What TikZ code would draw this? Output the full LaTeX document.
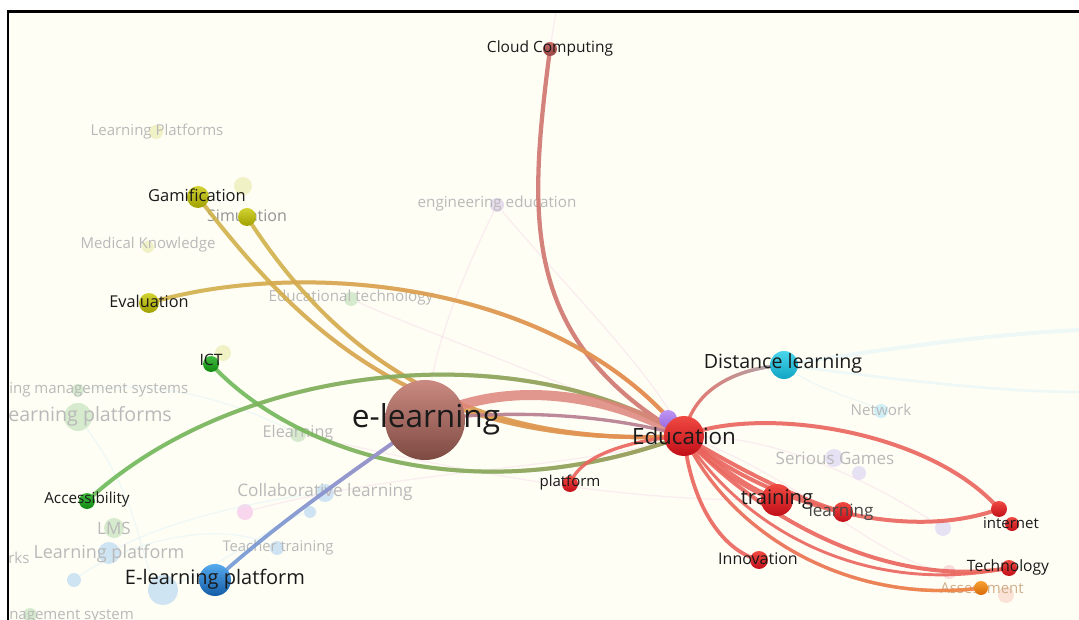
\documentclass[tikz,border=0pt]{standalone}
\usepackage{fontspec}
\setmainfont{Open Sans}
\usetikzlibrary{fadings}
\newcommand\pxf[1]{\fontsize{\fpeval{#1*0.75}pt}{\fpeval{#1*0.9}pt}\selectfont}
\pgfdeclarelayer{bg}\pgfdeclarelayer{faded}\pgfdeclarelayer{edges}
\pgfsetlayers{bg,faded,edges,main}
\definecolor{cream}{HTML}{FFFEF5}
\definecolor{labdark}{HTML}{1A1A1A}
\definecolor{fadegray}{HTML}{B9B9B9}
\definecolor{elT}{HTML}{CB8A81}\definecolor{elB}{HTML}{7C4A42}
\definecolor{redT}{HTML}{F04A42}\definecolor{redB}{HTML}{C20E18}
\definecolor{puT}{HTML}{BE96F4}\definecolor{puB}{HTML}{9A6AE0}
\definecolor{ccT}{HTML}{C86A66}\definecolor{ccB}{HTML}{984646}
\definecolor{dlT}{HTML}{4AD6EC}\definecolor{dlB}{HTML}{10A4C4}
\definecolor{orT}{HTML}{F7A032}\definecolor{orB}{HTML}{D86A08}
\definecolor{yeT}{HTML}{D2D232}\definecolor{yeB}{HTML}{A0A000}
\definecolor{grT}{HTML}{40BC40}\definecolor{grB}{HTML}{108810}
\definecolor{blT}{HTML}{56AAEE}\definecolor{blB}{HTML}{135CA6}
\definecolor{ccedge}{HTML}{CF766E}
\definecolor{goldA}{HTML}{D0B54C}\definecolor{orangeB}{HTML}{EA8758}
\definecolor{greenA}{HTML}{6CBC5A}\definecolor{oliveB}{HTML}{A89A62}
\definecolor{blueA}{HTML}{6E9CD8}\definecolor{purpleB}{HTML}{A88EC4}
\definecolor{rededge}{HTML}{E9645C}
\definecolor{band}{HTML}{DE857C}
\definecolor{mauve}{HTML}{B67C8E}
\definecolor{oredge}{HTML}{EE9048}
\definecolor{grayc}{HTML}{9AB4BC}
\definecolor{fyel}{HTML}{F1F1C6}\definecolor{fgrn}{HTML}{D6EACD}
\definecolor{fblu}{HTML}{CFE4F2}\definecolor{fpur}{HTML}{E6DCEC}
\definecolor{fpnk}{HTML}{F8D6EE}\definecolor{fcya}{HTML}{CFEFF7}
\definecolor{fvio}{HTML}{E6E2F4}\definecolor{fred}{HTML}{F8DCDC}
\definecolor{fpch}{HTML}{FBE2D6}
\definecolor{fline}{HTML}{F3D4E6}\definecolor{fcline}{HTML}{D6F0F8}
\begin{document}
\begin{tikzpicture}[x=0.75pt,y=-0.75pt,
  ball/.style n args={3}{circle,inner sep=0pt,minimum size=#1*1.5pt,top color=#2,bottom color=#3,draw=none},
  fball/.style n args={2}{circle,inner sep=0pt,minimum size=#1*1.5pt,fill=#2,draw=none},
  lab/.style={text=labdark,inner sep=0pt},
  flab/.style={text=fadegray,inner sep=0pt},
  edge/.style={line cap=round,opacity=0.9},
  fedge/.style={line width=1pt,opacity=0.4}]
\useasboundingbox (0,0) rectangle (1079,620);
\begin{pgfonlayer}{bg}
\fill[white] (0,0) rectangle (1079,620);
\fill[cream] (8,11) rectangle (1079,620);
\end{pgfonlayer}

% ---------- strong nodes ----------
\node[ball={9}{puT}{puB}] (PU) at (668,419) {};
\node[ball={40}{elT}{elB}] (EL) at (425,420) {};
\node[ball={20}{redT}{redB}] (ED) at (684,436) {};
\node[ball={7}{ccT}{ccB}] (CC) at (550,49) {};
\node[ball={14}{dlT}{dlB}] (DL) at (784,365) {};
\node[ball={16}{redT}{redB}] (TR) at (777,500) {};
\node[ball={10}{redT}{redB}] (LE) at (843,512) {};
\node[ball={8}{redT}{redB}] (IN1) at (999,509) {};
\node[ball={7}{redT}{redB}] (IN2) at (1012,524) {};
\node[ball={8}{redT}{redB}] (TE) at (1009,568) {};
\node[ball={7}{orT}{orB}] (AS) at (981,588) {};
\node[ball={9}{redT}{redB}] (INV) at (759,560) {};
\node[ball={8}{redT}{redB}] (PL) at (570,484) {};
\node[ball={11}{yeT}{yeB}] (GA) at (198,197) {};
\node[ball={9}{yeT}{yeB}] (SI) at (247,217) {};
\node[ball={10}{yeT}{yeB}] (EV) at (149,303) {};
\node[ball={8}{grT}{grB}] (ICT) at (211,364) {};
\node[ball={8}{grT}{grB}] (AC) at (87,501) {};
\node[ball={16}{blT}{blB}] (ELP) at (215,580) {};

% ---------- faded nodes and labels ----------
\begin{pgfonlayer}{faded}
\clip (9,12) rectangle (1079,620);
\node[fball={7}{fyel}] (fLPs) at (156,132) {};
\node[fball={9}{fyel}] (fY1) at (243,186) {};
\node[fball={6}{fyel}] (fMK) at (148,247) {};
\node[fball={7}{fpur}] (fEE) at (497,205) {};
\node[fball={7}{fgrn}] (fET) at (351,299) {};
\node[fball={8}{fyel}] (fY2) at (223,353) {};
\node[fball={6}{fgrn}] (fLMSs) at (78,390) {};
\node[fball={14}{fgrn}] (fLPl) at (78,417) {};
\node[fball={8}{fgrn}] (fEl) at (298,434) {};
\node[fball={9}{fblu}] (fCL) at (325,493) {};
\node[fball={6}{fblu}] (fB1) at (310,512) {};
\node[fball={8}{fpnk}] (fPk) at (245,512) {};
\node[fball={10}{fgrn}] (fLMS) at (114,528) {};
\node[fball={11}{fblu}] (fLP) at (109,553) {};
\node[fball={7}{fblu}] (fTT) at (277,548) {};
\node[fball={7}{fblu}] (fB2) at (74,580) {};
\node[fball={15}{fblu}] (fB3) at (163,590) {};
\node[fball={7}{fgrn}] (fLMS2) at (30,615) {};
\node[fball={7}{fcya}] (fNW) at (881,411) {};
\node[fball={9}{fvio}] (fSG) at (834,458) {};
\node[fball={7}{fvio}] (fV1) at (859,473) {};
\node[fball={8}{fvio}] (fV2) at (943,528) {};
\node[fball={7}{fred}] (fR1) at (949,572) {};
\node[fball={8}{fpch}] (fP1) at (1006,595) {};
\coordinate (topCC) at (556,12);
\coordinate (rDL1) at (1079,330);
\coordinate (rDL2) at (1079,392);
% faint connectors
\draw[fedge,fline] (topCC) -- (CC);
\draw[fedge,fline] (fEE) .. controls (470,260) and (440,330) .. (EL);
\draw[fedge,fline] (fEE) .. controls (560,280) and (640,360) .. (ED);
\draw[fedge,fline] (fET) .. controls (420,330) and (560,380) .. (ED);
\draw[fedge,fline] (fPk) .. controls (400,470) and (560,470) .. (ED);
\draw[fedge,fline] (fEl) .. controls (460,470) and (600,500) .. (TR);
\draw[fedge,fline] (ED) .. controls (800,480) and (880,560) .. (fR1);
\draw[fedge,fline] (ED) .. controls (800,440) and (900,500) .. (fV2);
\draw[fedge,fcline,line width=3pt] (DL) .. controls (880,350) and (980,335) .. (rDL1);
\draw[fedge,fcline,line width=2pt] (DL) .. controls (900,380) and (1000,392) .. (rDL2);
\draw[fedge,fcline] (DL) .. controls (820,390) and (860,400) .. (fNW);
\draw[fedge,fcline] (fLPl) .. controls (140,500) and (140,560) .. (fB3);
\draw[fedge,fcline] (fLP) .. controls (170,520) and (260,500) .. (fCL);
\draw[fedge,fcline] (fB2) .. controls (130,540) and (220,520) .. (fTT);
\draw[fedge,fcline] (fB3) .. controls (230,560) and (280,520) .. (fB1);
\draw[fedge,fcline] (fLMSs) .. controls (160,380) and (230,400) .. (fEl);
% faded labels
\node[flab,font=\pxf{15}] (lLPs) at (157,132) {Learning Platforms};
\node[flab,font=\pxf{15}] (lMK) at (148,245) {Medical Knowledge};
\node[inner sep=0pt,text=gray!85,font=\pxf{16}] (lSI) at (247,216) {Simulation};
\node[flab,font=\pxf{15.2}] (lEE) at (497,204) {engineering education};
\node[flab,font=\pxf{15.2}] (lET) at (351,298) {Educational technology};
\node[flab,font=\pxf{15},anchor=west] (lLMSs) at (9,390) {ing management systems};
\node[flab,font=\pxf{19.6},anchor=west] (lLPl) at (8,416) {earning platforms};
\node[flab,font=\pxf{16.2}] (lEl) at (298,433) {Elearning};
\node[flab,font=\pxf{17.2}] (lCL) at (325,492) {Collaborative learning};
\node[flab,font=\pxf{17}] (lLMS) at (114,528) {LMS};
\node[flab,font=\pxf{18}] (lLP) at (109,554) {Learning platform};
\node[flab,font=\pxf{15},anchor=west] (lrks) at (8,558) {rks};
\node[flab,font=\pxf{14.8}] (lTT) at (278,548) {Teacher training};
\node[flab,font=\pxf{15},anchor=west] (lLMS2) at (9,616) {nagement system};
\node[flab,font=\pxf{15.2}] (lNW) at (881,410) {Network};
\node[flab,font=\pxf{17}] (lSG) at (835,458) {Serious Games};
\node[inner sep=0pt,text=orT!35!fadegray,font=\pxf{15}] (lAS) at (982,588) {Assessment};
\end{pgfonlayer}

% ---------- strong connectors ----------
\begin{pgfonlayer}{edges}
\draw[edge,line width=3.2pt,ccedge] (CC.center) .. controls (528,220) and (520,340) .. (ED.center);
% Gamification / Simulation
\draw[edge,line width=3pt,goldA] (GA.center) .. controls (300,330) and (420,450) .. (ED.center);
\draw[edge,line width=3pt,orangeB,path fading=west] (GA.center) .. controls (300,330) and (420,450) .. (ED.center);
\draw[edge,line width=3pt,goldA] (SI.center) .. controls (320,330) and (440,450) .. (ED.center);
\draw[edge,line width=3pt,orangeB,path fading=west] (SI.center) .. controls (320,330) and (440,450) .. (ED.center);
% Evaluation
\draw[edge,line width=3pt,goldA] (EV.center) .. controls (300,258) and (560,280) .. (ED.center);
\draw[edge,line width=3pt,orangeB,path fading=west] (EV.center) .. controls (300,258) and (560,280) .. (ED.center);
% ICT
\draw[edge,line width=3pt,greenA] (ICT.center) .. controls (290,450) and (470,515) .. (ED.center);
\draw[edge,line width=3pt,oliveB,path fading=west] (ICT.center) .. controls (290,450) and (470,515) .. (ED.center);
% Accessibility
\draw[edge,line width=3pt,greenA] (AC.center) .. controls (240,360) and (520,335) .. (ED.center);
\draw[edge,line width=3pt,oliveB,path fading=west] (AC.center) .. controls (240,360) and (520,335) .. (ED.center);
% E-learning platform
\draw[edge,line width=2.8pt,blueA] (ELP.center) .. controls (280,520) and (370,460) .. (EL.center);
\draw[edge,line width=2.8pt,purpleB,path fading=west] (ELP.center) .. controls (280,520) and (370,460) .. (EL.center);
% e-learning -- Education
\draw[edge,line width=7.5pt,band,opacity=0.85] (EL.center) .. controls (500,380) and (600,390) .. (ED.center);
\draw[edge,line width=2.5pt,mauve] (EL.center) .. controls (500,410) and (600,412) .. (ED.center);
% platform
\draw[edge,line width=2.5pt,rededge] (PL.center) .. controls (580,455) and (630,440) .. (ED.center);
% Distance learning
\draw[edge,line width=2.5pt,rededge] (ED.center) .. controls (690,400) and (720,370) .. (DL.center);
\draw[edge,line width=2.5pt,grayc,path fading=west] (ED.center) .. controls (690,400) and (720,370) .. (DL.center);
% right side
\draw[edge,line width=3pt,rededge] (ED.center) .. controls (760,405) and (930,430) .. (IN1.center);
\draw[edge,line width=3pt,rededge] (ED.center) .. controls (760,500) and (900,545) .. (IN1.center);
\draw[edge,line width=4.5pt,rededge] (ED.center) .. controls (720,470) and (750,490) .. (TR.center);
\draw[edge,line width=3pt,rededge] (ED.center) .. controls (740,470) and (800,500) .. (LE.center);
\draw[edge,line width=3pt,rededge] (ED.center) .. controls (750,510) and (880,590) .. (TE.center);
\draw[edge,line width=2.2pt,rededge] (ED.center) .. controls (740,525) and (860,598) .. (TE.center);
\draw[edge,line width=2.5pt,rededge] (ED.center) .. controls (730,535) and (850,605) .. (AS.center);
\draw[edge,line width=2.5pt,oredge,path fading=west] (ED.center) .. controls (730,535) and (850,605) .. (AS.center);
\draw[edge,line width=2.8pt,rededge] (ED.center) .. controls (690,500) and (720,550) .. (INV.center);
\end{pgfonlayer}

% ---------- strong labels ----------
\node[lab,font=\pxf{31.6}] (lEL) at (426,419) {e-learning};
\node[lab,font=\pxf{22.4}] (lED) at (684,436) {Education};
\node[lab,font=\pxf{19.6}] (lDL) at (783,363) {Distance learning};
\node[lab,font=\pxf{15.5}] (lCC) at (550,48) {Cloud Computing};
\node[lab,font=\pxf{20.2}] (lTR) at (777,500) {training};
\node[inner sep=0pt,text=labdark!80,font=\pxf{17}] (lLE) at (841,512) {learning};
\node[lab,font=\pxf{15}] (lIN) at (1011,523) {internet};
\node[lab,font=\pxf{15.6}] (lTE) at (1008,567) {Technology};
\node[lab,font=\pxf{16}] (lINV) at (758,559) {Innovation};
\node[lab,font=\pxf{15}] (lPL) at (570,483) {platform};
\node[lab,font=\pxf{16.5}] (lGA) at (197,195) {Gamification};
\node[lab,font=\pxf{16.3}] (lEV) at (149,301) {Evaluation};
\node[lab,font=\pxf{15.7}] (lICT) at (211,360) {ICT};
\node[lab,font=\pxf{15.3}] (lAC) at (87,500) {Accessibility};
\node[lab,font=\pxf{20}] (lELP) at (215,579) {E-learning platform};

% ---------- frame ----------
\draw[line width=1.9pt,black] (8,620) -- (8,11.5) -- (1079,11.5);
\end{tikzpicture}
\end{document}
